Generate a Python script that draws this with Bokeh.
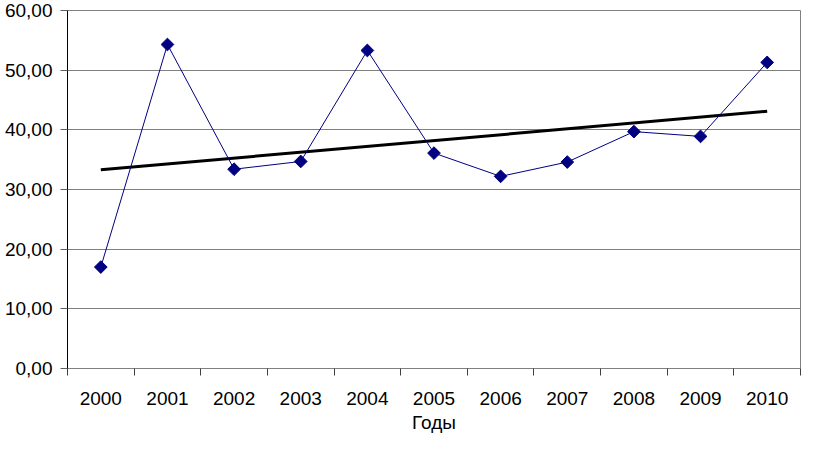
from bokeh.plotting import figure
from bokeh.models import FixedTicker, Range1d
from bokeh.embed import file_html
from bokeh.resources import INLINE

years = ["2000", "2001", "2002", "2003", "2004", "2005", "2006", "2007", "2008", "2009", "2010"]
values = [17.0, 54.3, 33.4, 34.7, 53.3, 36.1, 32.2, 34.6, 39.7, 38.9, 51.3]
trend_years = ["2000", "2010"]
trend_values = [33.3, 43.1]
y_ticks = [0, 10, 20, 30, 40, 50, 60]
y_tick_labels = ["0,00", "10,00", "20,00", "30,00", "40,00", "50,00", "60,00"]
x_title = "Годы"

n = len(years)
xs = [i + 0.5 for i in range(n)]
trend_xs = [years.index(y) + 0.5 for y in trend_years]

p = figure(width=801, height=436, output_backend="svg", toolbar_location=None,
           x_range=Range1d(0, n), y_range=Range1d(0, 60),
           min_border_left=67, min_border_right=1, min_border_top=10, min_border_bottom=68)
p.background_fill_color = "white"
p.border_fill_color = "white"
p.outline_line_color = "#808080"
p.outline_line_width = 1

FONT = "Liberation Sans"

# x axis
xa = p.xaxis[0]
xa.ticker = FixedTicker(ticks=xs, minor_ticks=list(range(n + 1)))
xa.major_label_overrides = {x: lbl for x, lbl in zip(xs, years)}
xa.major_tick_line_color = None
xa.major_tick_out = 0
xa.major_tick_in = 0
xa.minor_tick_line_color = "#404040"
xa.minor_tick_out = 7
xa.minor_tick_in = 0
xa.axis_line_color = "#808080"
xa.major_label_text_font = FONT
xa.major_label_text_font_size = "19px"
xa.major_label_text_color = "black"
xa.major_label_standoff = 16
xa.axis_label = x_title
xa.axis_label_text_font = FONT
xa.axis_label_text_font_size = "19px"
xa.axis_label_text_font_style = "normal"
xa.axis_label_text_color = "black"
xa.axis_label_standoff = 4

# y axis
ya = p.yaxis[0]
ya.ticker = FixedTicker(ticks=y_ticks, minor_ticks=[])
ya.major_label_overrides = {t: lbl for t, lbl in zip(y_ticks, y_tick_labels)}
ya.axis_line_color = "black"
ya.major_tick_line_color = "#606060"
ya.major_tick_out = 7
ya.major_tick_in = 0
ya.minor_tick_line_color = None
ya.major_label_text_font = FONT
ya.major_label_text_font_size = "19px"
ya.major_label_text_color = "black"
ya.major_label_standoff = 8

p.xgrid.grid_line_color = None
p.ygrid.ticker = FixedTicker(ticks=y_ticks)
p.ygrid.grid_line_color = "#808080"
p.ygrid.grid_line_width = 1

# trend line
p.line(trend_xs, trend_values, line_color="black", line_width=3)

# data series
p.line(xs, values, line_color="#000080", line_width=1)
p.scatter(xs, values, marker="square", size=9, angle=0.7854,
          fill_color="#000080", line_color="#000080")

open("out.html", "w").write(file_html(p, INLINE))
